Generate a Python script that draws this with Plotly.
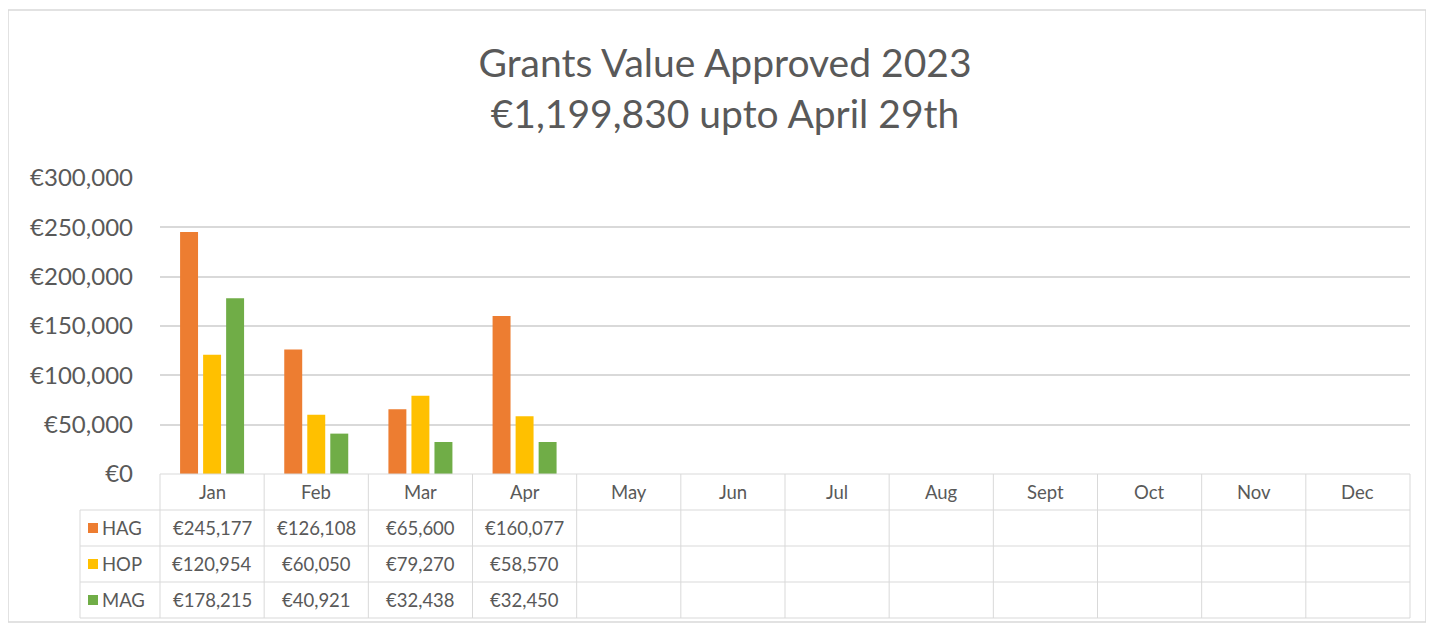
import plotly.graph_objects as go

months = ["Jan", "Feb", "Mar", "Apr", "May", "Jun", "Jul", "Aug", "Sept", "Oct", "Nov", "Dec"]
series_names = ["HAG", "HOP", "MAG"]
hag = [245177, 126108, 65600, 160077]
hop = [120954, 60050, 79270, 58570]
mag = [178215, 40921, 32438, 32450]
colors = ["#ED7D31", "#FFC000", "#70AD47"]
y_ticks = [0, 50000, 100000, 150000, 200000, 250000, 300000]

W, H = 1434, 628
OFF = 8  # page body margin
FONT = "Lato, Calibri, Carlito, 'Open Sans', sans-serif"
TXT = "#595959"
LINE = "#D9D9D9"

def py(p):
    return (H - (p - OFF)) / H

def px(p):
    return (p - OFF) / W

fig = go.Figure()
all_series = [hag, hop, mag]
for name, vals, col in zip(series_names, all_series, colors):
    full = vals + [None] * (len(months) - len(vals))
    fig.add_trace(go.Bar(x=months, y=full, name=name, marker_color=col, marker_line_width=0))

# Plot area geometry (page pixels)
x_left, x_right = 160, 1410
y_zero, y_top = 474, 178
row_edges = [474, 510, 546, 582, 618]
ncol = len(months)
colw = (x_right - x_left) / ncol

shapes = []
annotations = []

# outer chart border
shapes.append(dict(type="rect", xref="paper", yref="paper", x0=px(8), x1=px(1426), y0=py(622), y1=py(10),
                   line=dict(color="#D9D9D9", width=1.5), fillcolor="rgba(0,0,0,0)", layer="below"))

# table horizontal lines
for i, yy in enumerate(row_edges):
    xs = x_left if i == 0 else 80
    shapes.append(dict(type="line", xref="paper", yref="paper", x0=px(xs), x1=px(x_right), y0=py(yy), y1=py(yy),
                       line=dict(color=LINE, width=1)))
# table vertical lines
for k in range(ncol + 1):
    xx = x_left + k * colw
    shapes.append(dict(type="line", xref="paper", yref="paper", x0=px(xx), x1=px(xx), y0=py(row_edges[-1]), y1=py(row_edges[0]),
                       line=dict(color=LINE, width=1)))
shapes.append(dict(type="line", xref="paper", yref="paper", x0=px(80), x1=px(80), y0=py(row_edges[-1]), y1=py(row_edges[1]),
                   line=dict(color=LINE, width=1)))

TSIZE = 18.5
# header labels
for k, m in enumerate(months):
    annotations.append(dict(xref="paper", yref="paper", x=px(x_left + (k + 0.5) * colw), y=py((row_edges[0] + row_edges[1]) / 2),
                            text=m, showarrow=False, font=dict(size=TSIZE, color=TXT, family=FONT), xanchor="center", yanchor="middle"))
# rows
for r, (name, vals, col) in enumerate(zip(series_names, all_series, colors)):
    yc = (row_edges[r + 1] + row_edges[r + 2]) / 2
    shapes.append(dict(type="rect", xref="paper", yref="paper", x0=px(88), x1=px(98), y0=py(yc + 5), y1=py(yc - 5),
                       fillcolor=col, line=dict(width=0)))
    annotations.append(dict(xref="paper", yref="paper", x=px(100), y=py(yc), text=name, showarrow=False,
                            font=dict(size=TSIZE, color=TXT, family=FONT), xanchor="left", yanchor="middle"))
    for k, v in enumerate(vals):
        annotations.append(dict(xref="paper", yref="paper", x=px(x_left + (k + 0.5) * colw), y=py(yc),
                                text=f"€{v:,}", showarrow=False, font=dict(size=TSIZE, color=TXT, family=FONT),
                                xanchor="center", yanchor="middle"))

fig.update_layout(
    template="none",
    width=W, height=H,
    margin=dict(l=0, r=0, t=0, b=0, pad=0),
    paper_bgcolor="white", plot_bgcolor="white",
    barmode="group", bargap=0.337, bargroupgap=0.22,
    showlegend=False,
    title=dict(text="Grants Value Approved 2023<br>€1,199,830 upto April 29th", x=px(725), xanchor="center",
               xref="paper", yref="container", y=py(77), yanchor="middle",
               font=dict(size=39, color=TXT, family=FONT)),
    xaxis=dict(domain=[px(x_left), px(x_right)], showticklabels=False, showgrid=False, zeroline=False,
               showline=False, ticks="", automargin=False,
               categoryorder="array", categoryarray=months, range=[-0.5, 11.5], fixedrange=True),
    yaxis=dict(domain=[py(y_zero), py(y_top)], range=[0, 300000], tickmode="array", tickvals=y_ticks,
               ticktext=[f"€{v:,}" for v in y_ticks], automargin=False,
               showgrid=True, gridcolor=LINE, gridwidth=1.5, zeroline=False, showline=False, ticks="",
               ticklabelstandoff=26, tickfont=dict(size=24, color=TXT, family=FONT)),
    shapes=shapes, annotations=annotations,
)

fig.write_html("out.html")
